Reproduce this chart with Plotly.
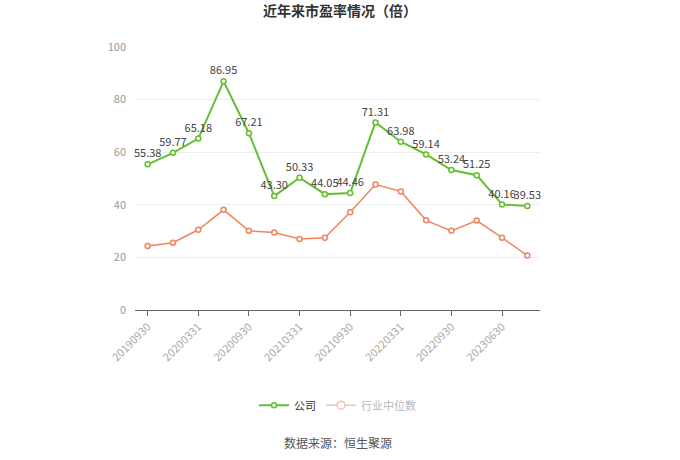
import plotly.graph_objects as go

dates = ["20190930", "20191231", "20200331", "20200630", "20200930", "20201231",
         "20210331", "20210630", "20210930", "20211231", "20220331", "20220630",
         "20220930", "20221231", "20230630", "20230930"]
company = [55.38, 59.77, 65.18, 86.95, 67.21, 43.30, 50.33, 44.05, 44.46, 71.31,
           63.98, 59.14, 53.24, 51.25, 40.16, 39.53]
industry = [24.3, 25.6, 30.5, 38.1, 30.1, 29.5, 27.0, 27.5, 37.2, 47.7,
            45.1, 34.1, 30.1, 34.0, 27.5, 20.7]
tick_labels = dates[::2]

FONT = "Noto Sans CJK SC"
GREEN = "#62bf2f"
ORANGE = "#f0845e"

fig = go.Figure()
fig.add_trace(go.Scatter(
    x=dates, y=company, name="公司", mode="lines+markers+text",
    line=dict(color=GREEN, width=2),
    marker=dict(symbol="circle", size=5, color="white", line=dict(color=GREEN, width=1.5)),
    text=[f"{v:.2f}" for v in company], textposition="top center",
    textfont=dict(family=FONT, size=11, color="#444"),
    cliponaxis=False,
))
fig.add_trace(go.Scatter(
    x=dates, y=industry, name="行业中位数", mode="lines+markers",
    line=dict(color=ORANGE, width=1.5),
    marker=dict(symbol="circle", size=5, color="white", line=dict(color=ORANGE, width=1.5)),
    showlegend=False,
))
# legend entry for the industry series (drawn faded as in the reference)
fig.add_trace(go.Scatter(
    x=[None], y=[None], name='<span style="color:#b8b8b8">行业中位数</span>',
    mode="lines+markers",
    line=dict(color="#f7c2ad", width=1.5),
    marker=dict(symbol="circle", size=8, color="white", line=dict(color="#f7c2ad", width=1.5)),
))

fig.update_layout(
    width=680, height=460,
    margin=dict(l=135, r=140, t=47, b=150),
    paper_bgcolor="white", plot_bgcolor="white",
    font=dict(family=FONT, color="#999"),
    title=dict(text="<b>近年来市盈率情况（倍）</b>", x=0.5, xanchor="center", y=0.975, yanchor="middle",
               font=dict(family=FONT, size=14, color="#333")),
    showlegend=True,
    legend=dict(orientation="h", x=0.5, xanchor="center", y=-0.362, yanchor="middle",
                font=dict(family=FONT, size=11, color="#333"), itemwidth=30),
    annotations=[dict(text="数据来源：恒生聚源", x=0.5, xref="paper", y=-0.505, yref="paper",
                      yanchor="middle", showarrow=False,
                      font=dict(family=FONT, size=12, color="#555"))],
)
fig.update_xaxes(
    type="category", range=[-0.5, len(dates) - 0.5],
    tickmode="array", tickvals=tick_labels, ticktext=tick_labels, tickangle=-45,
    showline=True, linecolor="#666", linewidth=1,
    ticks="outside", ticklen=5, tickcolor="#666",
    showgrid=False, tickfont=dict(family=FONT, size=11, color="#aaa"),
)
fig.update_yaxes(
    range=[0, 100], dtick=20, showline=False, gridcolor="#eee", zeroline=False,
    tickfont=dict(family=FONT, size=11, color="#999"), ticks="", ticklabelstandoff=8,
)

fig.write_html("out.html")
